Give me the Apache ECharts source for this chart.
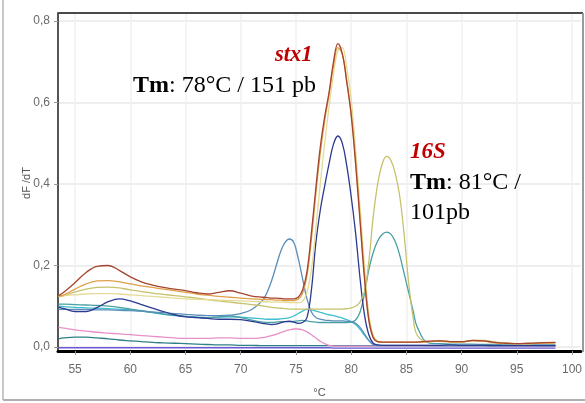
<!DOCTYPE html>
<html>
<head>
<meta charset="utf-8">
<script src="https://cdn.jsdelivr.net/npm/echarts@6/dist/echarts.min.js"></script>
<style>html,body{margin:0;padding:0;background:#fff}#c{width:585px;height:403px}</style>
</head>
<body>
<div id="c"></div>
<script>
// Temperatures (°C) shared by all curves
const temps = [53.5,54,55,56,57,58,59,60,61,62,63,64,65,66,67,68,69,70,71,
  72,72.4,72.8,73.2,73.6,74,74.4,74.8,75.2,75.6,76,76.4,76.8,77.2,77.6,78,78.4,78.8,79.2,79.6,80,80.4,80.8,81.2,81.6,82,82.4,82.8,83.2,83.6,84,84.4,84.8,85.2,85.6,86,
  87,88,89,90,91,92,93,94,95,96,97,98.5];

const xTicks = [55,60,65,70,75,80,85,90,95,100];
const yTicks = [0,0.2,0.4,0.6,0.8];
const xName = '°C';
const yName = 'dF /dT';

const brown = [0.126,0.135,0.158,0.183,0.198,0.200,0.188,0.172,0.160,0.152,0.146,0.142,0.138,0.133,0.130,0.134,0.138,0.132,0.125,
  0.122,0.121,0.120,0.120,0.119,0.118,0.118,0.118,0.122,0.140,0.185,0.280,0.390,0.490,0.565,0.625,0.700,0.745,0.720,0.650,0.570,0.450,0.310,0.170,0.065,0.022,0.013,0.012,0.012,0.012,0.012,0.012,0.012,0.012,0.012,0.012,
  0.014,0.015,0.013,0.013,0.016,0.015,0.011,0.009,0.008,0.009,0.010,0.011];
const orange = [0.124,0.128,0.142,0.155,0.162,0.163,0.160,0.155,0.150,0.146,0.142,0.138,0.134,0.130,0.127,0.124,0.122,0.120,0.118,
  0.117,0.116,0.116,0.115,0.115,0.114,0.114,0.114,0.117,0.132,0.175,0.265,0.375,0.475,0.555,0.620,0.690,0.735,0.718,0.655,0.575,0.460,0.320,0.180,0.070,0.025,0.013,0.011,0.011,0.011,0.011,0.011,0.011,0.011,0.011,0.012,
  0.013,0.014,0.012,0.012,0.015,0.014,0.010,0.009,0.008,0.008,0.009,0.010];
const paleYellow = [0.125,0.126,0.128,0.130,0.131,0.131,0.130,0.128,0.126,0.124,0.122,0.120,0.118,0.117,0.116,0.115,0.114,0.113,0.112,
  0.111,0.111,0.110,0.110,0.110,0.110,0.109,0.109,0.109,0.112,0.135,0.190,0.290,0.400,0.500,0.590,0.670,0.728,0.735,0.685,0.610,0.485,0.345,0.200,0.080,0.028,0.014,0.012,0.012,0.012,0.012,0.012,0.012,0.012,0.012,0.012,
  0.013,0.015,0.013,0.012,0.015,0.014,0.011,0.009,0.008,0.008,0.009,0.010];
const khaki = [0.124,0.126,0.135,0.142,0.146,0.147,0.145,0.140,0.136,0.132,0.129,0.126,0.123,0.120,0.116,0.113,0.110,0.107,0.104,
  0.101,0.099,0.097,0.096,0.095,0.094,0.093,0.093,0.093,0.093,0.093,0.093,0.093,0.093,0.093,0.093,0.093,0.093,0.093,0.094,0.096,0.100,0.110,0.135,0.210,0.320,0.400,0.448,0.468,0.458,0.425,0.370,0.275,0.160,0.075,0.028,
  0.013,0.016,0.013,0.012,0.016,0.016,0.012,0.010,0.008,0.008,0.009,0.010];
const navy = [0.098,0.094,0.087,0.087,0.097,0.111,0.118,0.113,0.104,0.095,0.087,0.079,0.074,0.072,0.070,0.068,0.068,0.067,0.063,
  0.058,0.056,0.055,0.056,0.059,0.062,0.063,0.061,0.058,0.060,0.072,0.140,0.255,0.335,0.395,0.450,0.498,0.518,0.500,0.445,0.370,0.280,0.170,0.080,0.030,0.009,0.005,0.004,0.004,0.004,0.004,0.004,0.004,0.004,0.004,0.004,
  0.004,0.004,0.005,0.004,0.004,0.004,0.003,0.003,0.003,0.003,0.003,0.003];
const teal = [0.105,0.105,0.104,0.103,0.102,0.100,0.097,0.093,0.089,0.085,0.081,0.078,0.075,0.073,0.072,0.074,0.076,0.072,0.066,
  0.061,0.060,0.060,0.061,0.062,0.062,0.062,0.063,0.064,0.065,0.064,0.062,0.061,0.060,0.060,0.060,0.060,0.060,0.060,0.060,0.061,0.066,0.085,0.130,0.190,0.232,0.260,0.276,0.282,0.277,0.258,0.225,0.180,0.135,0.090,0.048,
  0.010,0.008,0.007,0.007,0.007,0.006,0.006,0.005,0.005,0.005,0.005,0.005];
const steelBlue = [0.092,0.092,0.092,0.092,0.091,0.091,0.090,0.089,0.088,0.086,0.084,0.082,0.080,0.078,0.077,0.077,0.078,0.082,0.092,
  0.115,0.135,0.163,0.198,0.233,0.256,0.265,0.257,0.218,0.168,0.118,0.086,0.072,0.068,0.066,0.065,0.064,0.064,0.064,0.063,0.062,0.058,0.048,0.032,0.016,0.006,0.004,0.004,0.004,0.004,0.004,0.004,0.004,0.004,0.004,0.004,
  0.004,0.004,0.004,0.004,0.004,0.004,0.004,0.004,0.004,0.004,0.004,0.004];
const cyan = [0.100,0.099,0.097,0.096,0.095,0.094,0.093,0.091,0.088,0.084,0.080,0.077,0.075,0.073,0.072,0.073,0.074,0.073,0.071,
  0.069,0.068,0.068,0.068,0.069,0.070,0.072,0.076,0.082,0.088,0.092,0.091,0.088,0.085,0.082,0.079,0.077,0.074,0.071,0.067,0.062,0.055,0.043,0.029,0.016,0.006,0.003,0.003,0.003,0.003,0.003,0.003,0.003,0.003,0.003,0.003,
  0.003,0.003,0.003,0.003,0.003,0.003,0.003,0.003,0.003,0.003,0.003,0.003];
const pink = [0.048,0.046,0.042,0.039,0.036,0.034,0.032,0.030,0.028,0.026,0.024,0.022,0.021,0.021,0.021,0.022,0.022,0.021,0.021,
  0.023,0.025,0.028,0.031,0.035,0.039,0.042,0.044,0.044,0.042,0.037,0.030,0.022,0.014,0.008,0.004,0.002,0.002,0.002,0.002,0.002,0.002,0.002,0.002,0.002,0.002,0.002,0.002,0.002,0.002,0.002,0.002,0.002,0.002,0.002,0.002,
  0.002,0.002,0.002,0.002,0.002,0.002,0.002,0.002,0.002,0.002,0.002,0.002];
const darkTeal = [0.020,0.022,0.024,0.024,0.022,0.020,0.017,0.015,0.013,0.011,0.010,0.009,0.008,0.007,0.006,0.005,0.005,0.004,0.004,
  0.003,0.003,0.003,0.003,0.003,0.003,0.003,0.003,0.003,0.003,0.003,0.003,0.003,0.003,0.003,0.003,0.003,0.003,0.003,0.003,0.003,0.003,0.003,0.003,0.003,0.003,0.003,0.003,0.003,0.003,0.003,0.003,0.003,0.003,0.003,0.003,
  0.002,0.002,0.002,0.002,0.002,0.002,0.002,0.002,0.002,0.002,0.002,0.002];
const violet = [-0.002,-0.002,-0.002,-0.002,-0.002,-0.002,-0.002,-0.002,-0.002,-0.002,-0.002,-0.002,-0.002,-0.002,-0.002,-0.002,-0.002,-0.002,-0.002,
  -0.002,-0.002,-0.002,-0.002,-0.002,-0.002,-0.002,-0.002,-0.002,-0.002,-0.002,-0.002,-0.002,-0.002,-0.002,-0.002,-0.003,-0.003,-0.003,-0.003,-0.003,-0.003,-0.003,-0.003,-0.003,-0.003,-0.003,-0.003,-0.003,-0.003,-0.003,-0.003,-0.003,-0.003,-0.003,-0.003,
  -0.003,-0.003,-0.003,-0.003,-0.003,-0.003,-0.003,-0.003,-0.003,-0.003,-0.003,-0.003];

const curves = [
  {name:'violet', values:violet, color:'#6a5ad8'},
  {name:'darkTeal', values:darkTeal, color:'#2f7f88'},
  {name:'pink', values:pink, color:'#e690c8'},
  {name:'cyan', values:cyan, color:'#3fbfd0'},
  {name:'teal', values:teal, color:'#4a9fa5'},
  {name:'steelBlue', values:steelBlue, color:'#5b8db8'},
  {name:'navy', values:navy, color:'#2b3990'},
  {name:'khaki', values:khaki, color:'#c6c26c'},
  {name:'paleYellow', values:paleYellow, color:'#e4dc96'},
  {name:'orange', values:orange, color:'#e0a04a'},
  {name:'brown', values:brown, color:'#a5442f'}
];

const chart = echarts.init(document.getElementById('c'), null, {renderer:'canvas'});
const serif = '"Liberation Serif","Times New Roman",serif';
chart.setOption({
  animation: false,
  backgroundColor: '#fff',
  grid: {left: 58, right: 2, top: 13, bottom: 51, containLabel: false},
  xAxis: {
    type: 'value', min: 53.45, max: 100.8,
    name: xName, nameLocation: 'middle', nameGap: 36,
    nameTextStyle: {fontSize: 11, color: '#555', fontFamily: 'Liberation Sans'},
    axisLine: {show: true, onZero: false, lineStyle: {color: '#000', width: 3}},
    axisTick: {show: true, length: 4, customValues: xTicks, lineStyle: {color: '#999'}},
    axisLabel: {customValues: xTicks, color: '#6a6a6a', fontSize: 12, margin: 13, fontFamily: 'Liberation Sans'},
    splitLine: {show: true, lineStyle: {color: '#f1f1f1', width: 1.5}}
  },
  yAxis: {
    type: 'value', min: -0.01, max: 0.82,
    axisLine: {show: true, lineStyle: {color: '#555', width: 2}},
    axisTick: {show: true, length: 4, customValues: yTicks, lineStyle: {color: '#999'}},
    axisLabel: {customValues: yTicks, color: '#6a6a6a', fontSize: 12, margin: 8, fontFamily: 'Liberation Sans',
      formatter: v => v.toFixed(1).replace('.', ',')},
    splitLine: {show: true, lineStyle: {color: '#e8e8e8', width: 1.5}}
  },
  series: curves.map(c => ({
    type: 'line', name: c.name, smooth: 0.4, symbol: 'none',
    lineStyle: {color: c.color, width: 1.3},
    data: temps.map((t, i) => [t, c.values[i]])
  })),
  graphic: [
    {type: 'line', z: 50, shape: {x1: 58, y1: 13, x2: 583, y2: 13}, style: {stroke: '#4a4a4a', lineWidth: 2}},
    {type: 'line', z: 50, shape: {x1: 583, y1: 13, x2: 583, y2: 352}, style: {stroke: '#9a9a9a', lineWidth: 2}},
    {type: 'line', z: 50, shape: {x1: 3, y1: 0, x2: 3, y2: 400}, style: {stroke: '#c8c8c8', lineWidth: 2}},
    {type: 'line', z: 50, shape: {x1: 3, y1: 400, x2: 585, y2: 400}, style: {stroke: '#b0b0b0', lineWidth: 2}},
    {type: 'text', z: 100, x: 27, y: 183, rotation: Math.PI / 2,
      style: {text: yName, fontFamily: 'Liberation Sans', fontSize: 11, fill: '#555', align: 'center', verticalAlign: 'middle'}},
    {type: 'text', z: 100, x: 275, y: 55, style: {text: 'stx1', fontFamily: serif, fontSize: 22.5, fontStyle: 'italic', fontWeight: 'bold', fill: '#c00000', verticalAlign: 'middle'}},
    {type: 'text', z: 100, x: 133, y: 86, style: {text: '{b|Tm}: 78°C / 151 pb', fontFamily: serif, fontSize: 24, fill: '#000', verticalAlign: 'middle',
      rich: {b: {fontFamily: serif, fontSize: 24, fontWeight: 'bold', fill: '#000'}}}},
    {type: 'text', z: 100, x: 410, y: 152, style: {text: '16S', fontFamily: serif, fontSize: 23, fontStyle: 'italic', fontWeight: 'bold', fill: '#c00000', verticalAlign: 'middle'}},
    {type: 'text', z: 100, x: 410, y: 183, style: {text: '{b|Tm}: 81°C /', fontFamily: serif, fontSize: 24, fill: '#000', verticalAlign: 'middle',
      rich: {b: {fontFamily: serif, fontSize: 24, fontWeight: 'bold', fill: '#000'}}}},
    {type: 'text', z: 100, x: 410, y: 213, style: {text: '101pb', fontFamily: serif, fontSize: 24, fill: '#000', verticalAlign: 'middle'}}
  ]
});
</script>
</body>
</html>
